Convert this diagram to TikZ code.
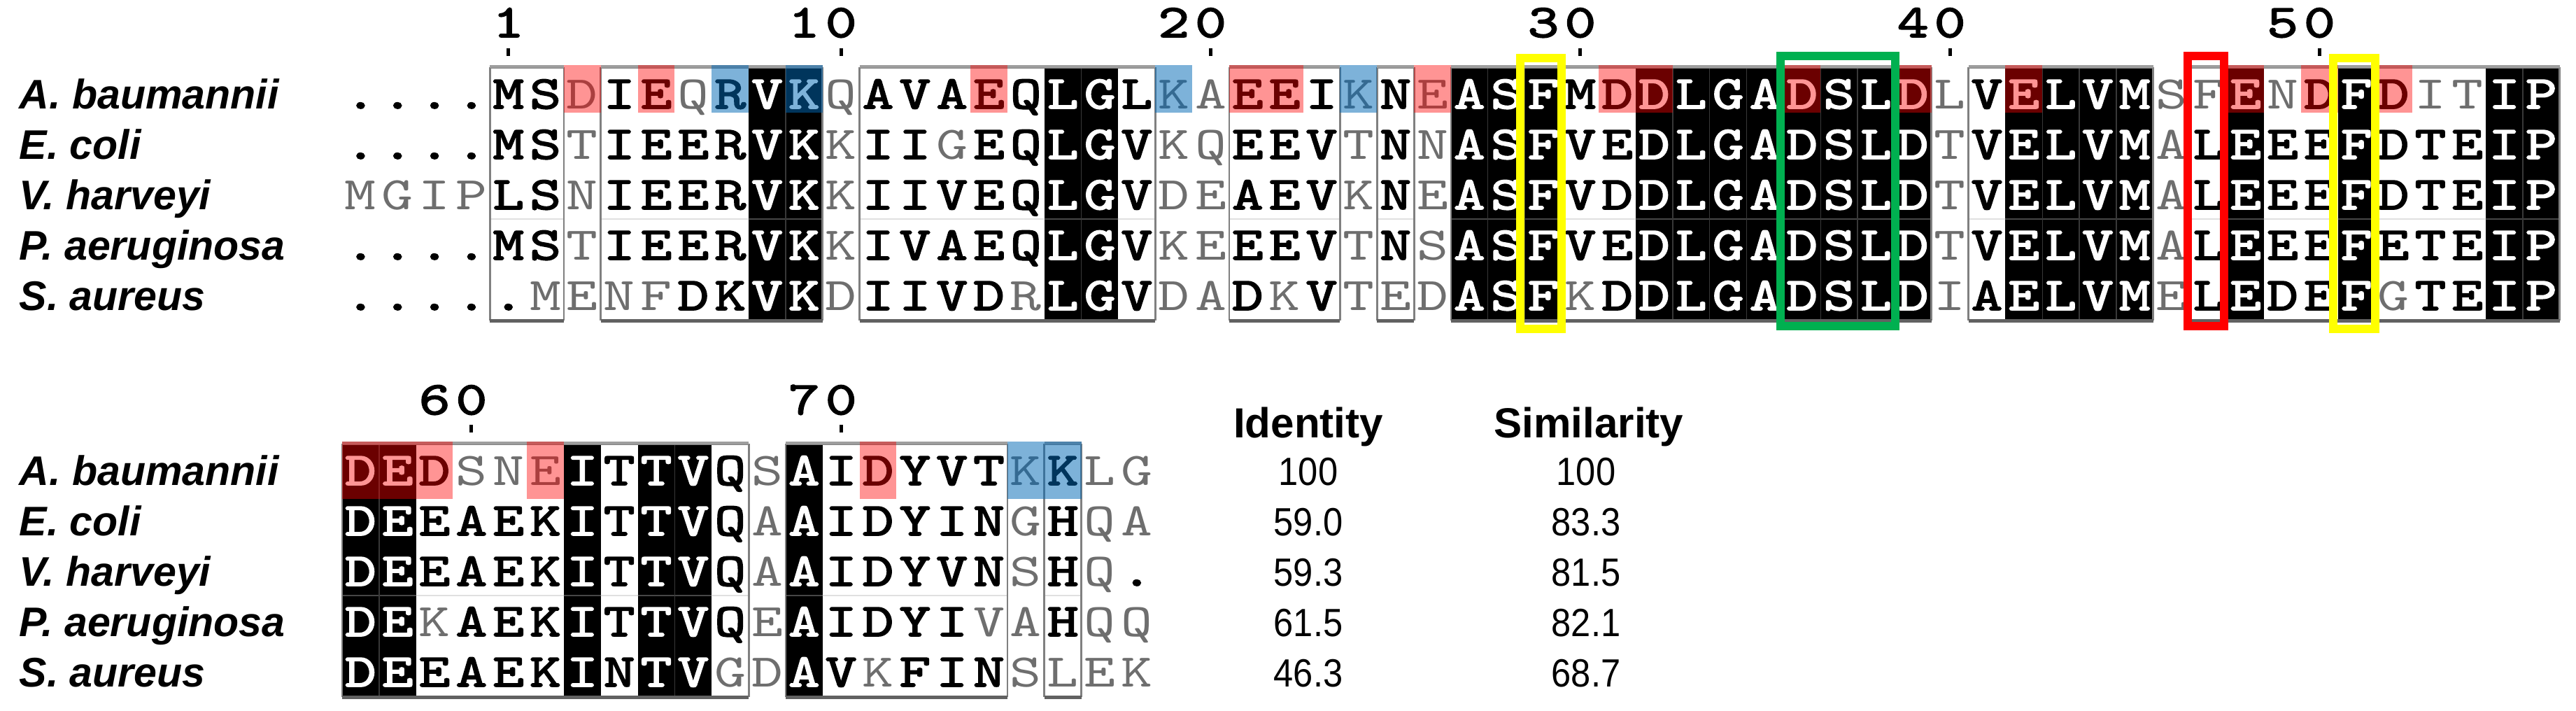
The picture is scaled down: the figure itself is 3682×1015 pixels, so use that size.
\documentclass[tikz,border=0pt]{standalone}
\usepackage{fontspec}
\setmainfont{Liberation Sans}
\newfontfamily\monofont{lmmono10-regular.otf}[FakeStretch=1.28]
\newfontfamily\monofontb{lmmono10-regular.otf}[FakeStretch=1.28,FakeBold=2.6]
\definecolor{blueov}{RGB}{0,104,182}
\definecolor{resgray}{RGB}{110,110,110}
\definecolor{hlgreen}{RGB}{0,176,80}
\definecolor{hlyellow}{RGB}{255,255,0}
\definecolor{hlred}{RGB}{255,0,0}
\newcommand\resfont{\fontsize{19pt}{21pt}\monofont}
\newcommand\resfontb{\fontsize{19pt}{21pt}\monofontb}
\newcommand\labfont{\fontsize{16.8pt}{18pt}\selectfont\bfseries\itshape}
\newcommand\headfont{\fontsize{17.1pt}{19pt}\selectfont\bfseries}
\newcommand\tabfont{\fontsize{16pt}{18pt}\selectfont}
\begin{document}
\begin{tikzpicture}[x=0.01cm,y=-0.01cm,
  res/.style={anchor=base,inner sep=0pt},
  clsb/.style={res,font=\resfontb,text=black},
  clsg/.style={res,font=\resfont,text=resgray},
  clsk/.style={res,font=\resfontb,text=white},
  clsd/.style={res,font=\resfontb,text=black},
  lab/.style={anchor=base west,inner sep=0pt,font=\labfont},
  posnum/.style={anchor=base,inner sep=0pt,font=\resfontb},
  tickmark/.style={fill=black},
  blackcol/.style={fill=black},
  sepline/.style={draw=black!78,line width=0.4pt},
  midlight/.style={draw=black!12,line width=0.5pt},
  middark/.style={draw=black!72,line width=0.6pt},
  framebox/.style={draw=black!50,line width=0.8pt},
  frametop/.style={draw=black!38,line width=1.1pt},
  framebot/.style={draw=black!62,line width=1.6pt},
  pinkov/.style={fill=red,fill opacity=0.42},
  blueov/.style={fill=blueov,fill opacity=0.51},
  hl/.style={line width=3.4pt},
  head/.style={anchor=base,inner sep=0pt,font=\headfont},
  tabnum/.style={anchor=base,inner sep=0pt,font=\tabfont},
]
\fill[white] (0,0) rectangle (3682,1015);
\useasboundingbox (0,0) rectangle (3682,1015);

% ---------------- TOP BLOCK (top edge 97) ----------------
\foreach \fa/\fb in {5/6,8/13,15/22,25/27,29/29,31/43,45/49,51/60}
  \draw[midlight] ({489+(\fa-1)*52.83},313) -- ({489+\fb*52.83},313);
\foreach \fa/\fb in {12/13,20/21,31/33,36/43,46/49,52/52,55/55,59/60}{
  \fill[blackcol] ({489+(\fa-1)*52.83},97) rectangle ({489+\fb*52.83},457);
  \draw[middark] ({489+(\fa-1)*52.83},313) -- ({489+\fb*52.83},313);
}
\foreach \k in {13,21,32,33,37,38,39,40,41,42,43,47,48,49,60}
  \draw[sepline] ({489+(\k-1)*52.83},97) -- ({489+(\k-1)*52.83},457);

\foreach \sA/\cA/\sB/\cB/\sC/\cC/\sD/\cD/\sE/\cE [count=\c] in {
 ./d/./d/M/g/./d/./d, ./d/./d/G/g/./d/./d, ./d/./d/I/g/./d/./d, ./d/./d/P/g/./d/./d,
 M/b/M/b/L/b/M/b/./d, S/b/S/b/S/b/S/b/M/g, D/g/T/g/N/g/T/g/E/g, I/b/I/b/I/b/I/b/N/g,
 E/b/E/b/E/b/E/b/F/g, Q/g/E/b/E/b/E/b/D/b, R/b/R/b/R/b/R/b/K/b, V/k/V/k/V/k/V/k/V/k,
 K/k/K/k/K/k/K/k/K/k, Q/g/K/g/K/g/K/g/D/g, A/b/I/b/I/b/I/b/I/b, V/b/I/b/I/b/V/b/I/b,
 A/b/G/g/V/b/A/b/V/b, E/b/E/b/E/b/E/b/D/b, Q/b/Q/b/Q/b/Q/b/R/g, L/k/L/k/L/k/L/k/L/k,
 G/k/G/k/G/k/G/k/G/k, L/b/V/b/V/b/V/b/V/b, K/g/K/g/D/g/K/g/D/g, A/g/Q/g/E/g/E/g/A/g,
 E/b/E/b/A/b/E/b/D/b, E/b/E/b/E/b/E/b/K/g, I/b/V/b/V/b/V/b/V/b, K/g/T/g/K/g/T/g/T/g,
 N/b/N/b/N/b/N/b/E/g, E/g/N/g/E/g/S/g/D/g, A/k/A/k/A/k/A/k/A/k, S/k/S/k/S/k/S/k/S/k,
 F/k/F/k/F/k/F/k/F/k, M/b/V/b/V/b/V/b/K/g, D/b/E/b/D/b/E/b/D/b, D/k/D/k/D/k/D/k/D/k,
 L/k/L/k/L/k/L/k/L/k, G/k/G/k/G/k/G/k/G/k, A/k/A/k/A/k/A/k/A/k, D/k/D/k/D/k/D/k/D/k,
 S/k/S/k/S/k/S/k/S/k, L/k/L/k/L/k/L/k/L/k, D/k/D/k/D/k/D/k/D/k, L/g/T/g/T/g/T/g/I/g,
 V/b/V/b/V/b/V/b/A/b, E/k/E/k/E/k/E/k/E/k, L/k/L/k/L/k/L/k/L/k, V/k/V/k/V/k/V/k/V/k,
 M/k/M/k/M/k/M/k/M/k, S/g/A/g/A/g/A/g/E/g, F/g/L/b/L/b/L/b/L/b, E/k/E/k/E/k/E/k/E/k,
 N/g/E/b/E/b/E/b/D/b, D/b/E/b/E/b/E/b/E/b, F/k/F/k/F/k/F/k/F/k, D/b/D/b/D/b/E/b/G/g,
 I/g/T/b/T/b/T/b/T/b, T/g/E/b/E/b/E/b/E/b, I/k/I/k/I/k/I/k/I/k, P/k/P/k/P/k/P/k/P/k}
{
  \node[cls\cA] (ta\c) at ({489+(\c-0.5)*52.83},155) {\sA};
  \node[cls\cB] (tb\c) at ({489+(\c-0.5)*52.83},227) {\sB};
  \node[cls\cC] (tc\c) at ({489+(\c-0.5)*52.83},299) {\sC};
  \node[cls\cD] (td\c) at ({489+(\c-0.5)*52.83},371) {\sD};
  \node[cls\cE] (te\c) at ({489+(\c-0.5)*52.83},443) {\sE};
}

\foreach \fa/\fb in {5/6,8/13,15/22,25/27,29/29,31/43,45/49,51/60}{
  \draw[framebox] ({489+(\fa-1)*52.83},97) rectangle ({489+\fb*52.83},457);
  \draw[frametop] ({489+(\fa-1)*52.83},95) -- ({489+\fb*52.83},95);
  \draw[framebot] ({489+(\fa-1)*52.83},458.5) -- ({489+\fb*52.83},458.5);
}

\foreach \fa/\fb in {7/7,9/9,18/18,25/26,30/30,35/36,40/40,43/43,46/46,52/52,54/54,56/56}
  \fill[pinkov] ({489+(\fa-1)*52.83},93) rectangle ({489+\fb*52.83},161);
\foreach \fa/\fb in {11/11,13/13,23/23,28/28}
  \fill[blueov] ({489+(\fa-1)*52.83},93) rectangle ({489+\fb*52.83},161);

\draw[hl,hlyellow] ({489+32*52.83-7},83) rectangle ({489+33*52.83},470);
\draw[hl,hlyellow] ({489+54*52.83-7},83) rectangle ({489+55*52.83},470);
\draw[hl,hlgreen] ({489+39*52.83-4},80) rectangle ({489+42*52.83+1},466);
\draw[hl,hlred] ({489+50*52.83-3.5},80) rectangle ({489+51*52.83-4},466);

\node[posnum] (n1) at ({489+4.5*52.83},53) {1};
\foreach \d/\cc [count=\i] in {1/13,0/14,2/23,0/24,3/33,0/34,4/43,0/44,5/53,0/54}
  \node[posnum] (nt\i) at ({489+(\cc-0.5)*52.83},53) {\d};
\foreach \cc in {5,14,24,34,44,54}
  \fill[tickmark] ({489+(\cc-0.5)*52.83-2.5},69) rectangle ({489+(\cc-0.5)*52.83+2.5},80);

\foreach \t [count=\r] in {A. baumannii,E. coli,V. harveyi,P. aeruginosa,S. aureus}
  \node[lab] (lt\r) at (27,{155+(\r-1)*72}) {\t};

% ---------------- BOTTOM BLOCK (top edge 635) ----------------
\foreach \fa/\fb in {1/11,13/18,20/20}
  \draw[midlight] ({489+(\fa-1)*52.83},851) -- ({489+\fb*52.83},851);
\foreach \fa/\fb in {1/2,7/7,9/10,13/13}{
  \fill[blackcol] ({489+(\fa-1)*52.83},635) rectangle ({489+\fb*52.83},995);
  \draw[middark] ({489+(\fa-1)*52.83},851) -- ({489+\fb*52.83},851);
}
\foreach \k in {2,10}
  \draw[sepline] ({489+(\k-1)*52.83},635) -- ({489+(\k-1)*52.83},995);

\foreach \sA/\cA/\sB/\cB/\sC/\cC/\sD/\cD/\sE/\cE [count=\c] in {
 D/k/D/k/D/k/D/k/D/k, E/k/E/k/E/k/E/k/E/k, D/b/E/b/E/b/K/g/E/b, S/g/A/b/A/b/A/b/A/b,
 N/g/E/b/E/b/E/b/E/b, E/g/K/b/K/b/K/b/K/b, I/k/I/k/I/k/I/k/I/k, T/b/T/b/T/b/T/b/N/b,
 T/k/T/k/T/k/T/k/T/k, V/k/V/k/V/k/V/k/V/k, Q/b/Q/b/Q/b/Q/b/G/g, S/g/A/g/A/g/E/g/D/g,
 A/k/A/k/A/k/A/k/A/k, I/b/I/b/I/b/I/b/V/b, D/b/D/b/D/b/D/b/K/g, Y/b/Y/b/Y/b/Y/b/F/b,
 V/b/I/b/V/b/I/b/I/b, T/b/N/b/N/b/V/g/N/b, K/g/G/g/S/g/A/g/S/g, K/b/H/b/H/b/H/b/L/g,
 L/g/Q/g/Q/g/Q/g/E/g, G/g/A/g/./d/Q/g/K/g}
{
  \node[cls\cA] (ba\c) at ({489+(\c-0.5)*52.83},693) {\sA};
  \node[cls\cB] (bb\c) at ({489+(\c-0.5)*52.83},765) {\sB};
  \node[cls\cC] (bc\c) at ({489+(\c-0.5)*52.83},837) {\sC};
  \node[cls\cD] (bd\c) at ({489+(\c-0.5)*52.83},909) {\sD};
  \node[cls\cE] (be\c) at ({489+(\c-0.5)*52.83},981) {\sE};
}

\foreach \fa/\fb in {1/11,13/18,20/20}{
  \draw[framebox] ({489+(\fa-1)*52.83},635) rectangle ({489+\fb*52.83},995);
  \draw[frametop] ({489+(\fa-1)*52.83},633) -- ({489+\fb*52.83},633);
  \draw[framebot] ({489+(\fa-1)*52.83},996.5) -- ({489+\fb*52.83},996.5);
}

\foreach \fa/\fb in {1/3,6/6,15/15}
  \fill[pinkov] ({489+(\fa-1)*52.83},631) rectangle ({489+\fb*52.83},713);
\foreach \fa/\fb in {19/20}
  \fill[blueov] ({489+(\fa-1)*52.83},631) rectangle ({489+\fb*52.83},713);

\foreach \d/\cc [count=\i] in {6/3,0/4,7/13,0/14}
  \node[posnum] (nb\i) at ({489+(\cc-0.5)*52.83},592) {\d};
\foreach \cc in {4,14}
  \fill[tickmark] ({489+(\cc-0.5)*52.83-2.5},607) rectangle ({489+(\cc-0.5)*52.83+2.5},618);

\foreach \t [count=\r] in {A. baumannii,E. coli,V. harveyi,P. aeruginosa,S. aureus}
  \node[lab] (lb\r) at (27,{693+(\r-1)*72}) {\t};

% ---------------- identity / similarity table ----------------
\node[head] (hid) at (1870,625) {Identity};
\node[head] (hsim) at (2271,625) {Similarity};
\foreach \vi/\vs [count=\r] in {100/100,59.0/83.3,59.3/81.5,61.5/82.1,46.3/68.7}{
  \node[tabnum] (id\r) at (1870,{693+(\r-1)*72}) {\scalebox{0.9}[1]{\vi}};
  \node[tabnum] (sim\r) at (2267,{693+(\r-1)*72}) {\scalebox{0.9}[1]{\vs}};
}
\end{tikzpicture}
\end{document}
